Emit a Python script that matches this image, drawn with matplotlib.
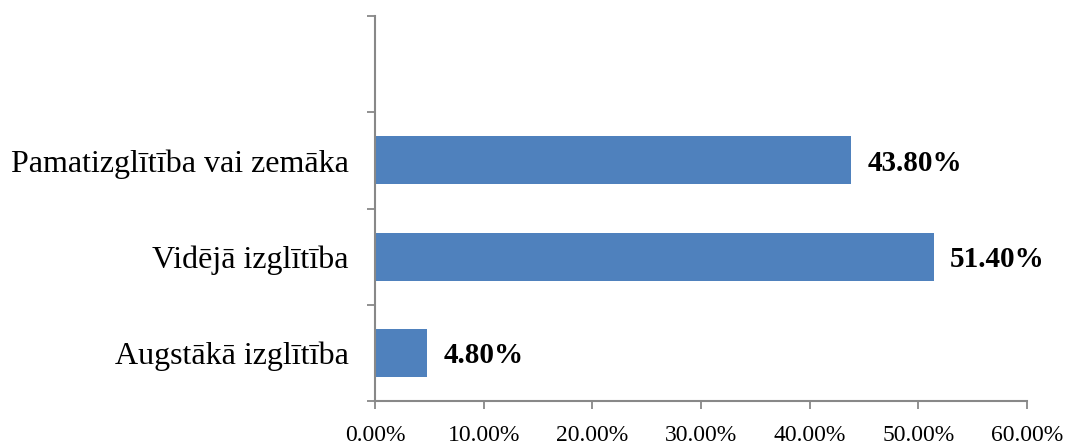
import matplotlib.pyplot as plt
from matplotlib.ticker import FixedLocator, FuncFormatter

categories = ["Augstākā izglītība", "Vidējā izglītība", "Pamatizglītība vai zemāka"]
values = [4.8, 51.4, 43.8]
x_ticks = [0, 10, 20, 30, 40, 50, 60]

plt.rcParams['font.family'] = ['Liberation Serif', 'DejaVu Serif']

fig = plt.figure(figsize=(10.72, 4.47), dpi=100)
ax = fig.add_axes([0.3498, 0.1029, 0.958 - 0.3498, 0.964 - 0.1029])

pos = list(range(len(categories)))
ax.barh(pos, values, height=0.5, color='#4F81BD', zorder=2)

for y, v in zip(pos, values):
	ax.annotate("%.2f%%" % v, (v, y), xytext=(12, -2), textcoords='offset points',
		ha='left', va='center', fontsize=21, fontweight='bold')

# one empty slot on top, like the original
ax.set_ylim(-0.5, len(categories) + 0.5)
ax.set_xlim(0, 60)

ax.yaxis.set_major_locator(FixedLocator([p - 0.5 for p in range(len(categories) + 2)]))
ax.yaxis.set_major_formatter(FuncFormatter(lambda v, p: ""))
ax.yaxis.set_minor_locator(FixedLocator(pos))
ax.set_yticklabels(categories, minor=True)
ax.tick_params(axis='y', which='minor', length=0, pad=19, labelsize=23)
ax.tick_params(axis='y', which='major', length=6, width=1.3, color='#888888')

ax.set_xticks(x_ticks)
ax.set_xticklabels(["%.2f%%" % t for t in x_ticks])
ax.tick_params(axis='x', length=6, width=1.3, color='#888888', pad=11, labelsize=17)

for s in ['top', 'right']:
	ax.spines[s].set_visible(False)
for s in ['left', 'bottom']:
	ax.spines[s].set_color('#888888')
	ax.spines[s].set_linewidth(1.5)

fig.savefig('out.png', dpi=100)
